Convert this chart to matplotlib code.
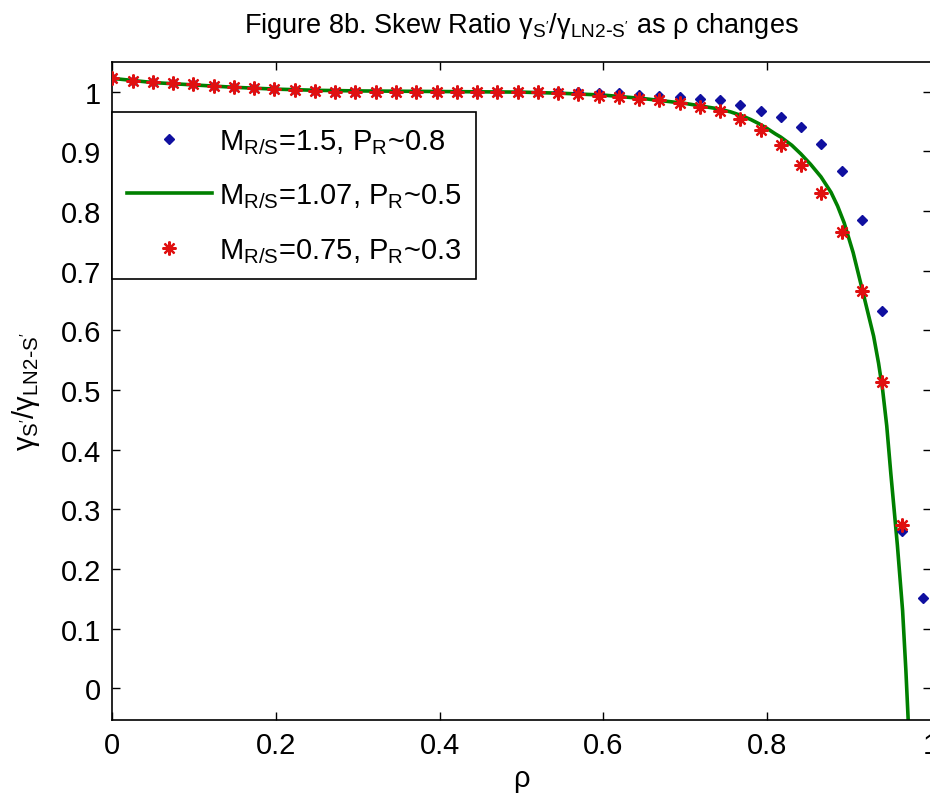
import numpy as np
import matplotlib
matplotlib.use("Agg")
import matplotlib.pyplot as plt
from matplotlib.ticker import FormatStrFormatter

plt.rcParams['font.family'] = ['Liberation Sans Narrow', 'Liberation Sans', 'DejaVu Sans']
plt.rcParams['mathtext.default'] = 'regular'

# rho grid of the marker series (41 points, 0 .. 0.99)
rho = [0.0, 0.02475, 0.0495, 0.07425, 0.099, 0.12375, 0.1485, 0.17325, 0.198, 0.22275,
       0.2475, 0.27225, 0.297, 0.32175, 0.3465, 0.37125, 0.396, 0.42075, 0.4455, 0.47025,
       0.495, 0.51975, 0.5445, 0.56925, 0.594, 0.61875, 0.6435, 0.66825, 0.693, 0.71775,
       0.7425, 0.76725, 0.792, 0.81675, 0.8415, 0.86625, 0.891, 0.91575, 0.9405, 0.96525,
       0.99]

# M_R/S = 1.5 (blue diamonds)
ratio_15 = [1.022, 1.018, 1.016, 1.014, 1.012, 1.010, 1.008, 1.006, 1.005, 1.003,
            1.001, 1.000, 1.000, 1.000, 1.000, 1.000, 1.000, 1.000, 1.000, 1.000,
            1.000, 1.000, 1.000, 0.999, 0.998, 0.997, 0.995, 0.993, 0.990, 0.988,
            0.985, 0.978, 0.967, 0.958, 0.940, 0.912, 0.867, 0.785, 0.632, 0.264,
            0.151]

# M_R/S = 0.75 (red asterisks), last point falls off the chart
ratio_075 = [1.022, 1.018, 1.016, 1.014, 1.012, 1.010, 1.008, 1.006, 1.005, 1.003,
             1.001, 1.000, 1.000, 1.000, 1.000, 1.000, 1.000, 1.000, 1.000, 1.000,
             1.000, 0.999, 0.998, 0.996, 0.993, 0.990, 0.987, 0.985, 0.981, 0.974,
             0.967, 0.954, 0.936, 0.911, 0.877, 0.830, 0.765, 0.665, 0.514, 0.273,
             np.nan]

# M_R/S = 1.07 (green curve)
rho_line = [0.0, 0.05, 0.1, 0.15, 0.2, 0.25, 0.3, 0.4, 0.5, 0.55, 0.6, 0.65, 0.7, 0.74,
            0.755, 0.768, 0.78, 0.79, 0.8, 0.81, 0.8166, 0.83, 0.841, 0.853, 0.8657,
            0.878, 0.886, 0.894, 0.905, 0.9165, 0.93, 0.936, 0.941, 0.946, 0.951, 0.955,
            0.959, 0.9654, 0.9694, 0.9722]
ratio_107 = [1.022, 1.015, 1.011, 1.007, 1.004, 1.002, 1.001, 1.000, 0.999, 0.997, 0.994,
             0.988, 0.980, 0.971, 0.966, 0.960, 0.953, 0.946, 0.938, 0.929, 0.9236, 0.910,
             0.8956, 0.878, 0.857, 0.831, 0.808, 0.780, 0.730, 0.666, 0.59, 0.545, 0.50,
             0.44, 0.36, 0.30, 0.24, 0.13, 0.03, -0.0526]

labels = ['M$_{R/S}$=1.5, P$_R$~0.8',
          'M$_{R/S}$=1.07, P$_R$~0.5',
          'M$_{R/S}$=0.75, P$_R$~0.3']

fig = plt.figure(figsize=(9.3, 8.03), dpi=100)
ax = fig.add_axes([0.1208, 0.1025, 0.8802, 0.8187])

ax.plot(rho, ratio_15, linestyle='none', marker='D', ms=5, color='#1010a0',
        label=labels[0], zorder=3)
ax.plot(rho_line, ratio_107, color='#008000', lw=2.6, label=labels[1], zorder=2)
ax.plot(rho, ratio_075, linestyle='none', marker=(8, 2, 0), ms=10, mew=1.6,
        color='#e01010', label=labels[2], zorder=4)

ax.set_xlim(0, 1)
ax.set_ylim(-0.0526, 1.049)
ax.set_xticks([0, 0.2, 0.4, 0.6, 0.8, 1.0])
ax.set_yticks([0, 0.1, 0.2, 0.3, 0.4, 0.5, 0.6, 0.7, 0.8, 0.9, 1.0])
ax.xaxis.set_major_formatter(FormatStrFormatter('%g'))
ax.yaxis.set_major_formatter(FormatStrFormatter('%g'))
ax.tick_params(direction='in', top=True, right=True, length=6, width=1.0,
               labelsize=21, pad=8)
for s in ax.spines.values():
    s.set_linewidth(1.2)

ax.set_title("Figure 8b. Skew Ratio γ$_{S'}$/γ$_{LN2\\text{-}S'}$ as ρ changes",
             fontsize=19.5, pad=22)
ax.set_xlabel('ρ', fontsize=21)
ax.set_ylabel("γ$_{S'}$/γ$_{LN2\\text{-}S'}$", fontsize=21)
ax.yaxis.set_label_coords(-0.086, 0.5)

leg = ax.legend(loc='upper left', bbox_to_anchor=(0, 0.924), borderaxespad=0,
                fontsize=21, handlelength=2.9, handletextpad=0.25, borderpad=0.5,
                labelspacing=0.88, numpoints=1, fancybox=False, framealpha=1,
                edgecolor='black')
leg.get_frame().set_linewidth(1.2)

fig.savefig('out.png', dpi=100)
